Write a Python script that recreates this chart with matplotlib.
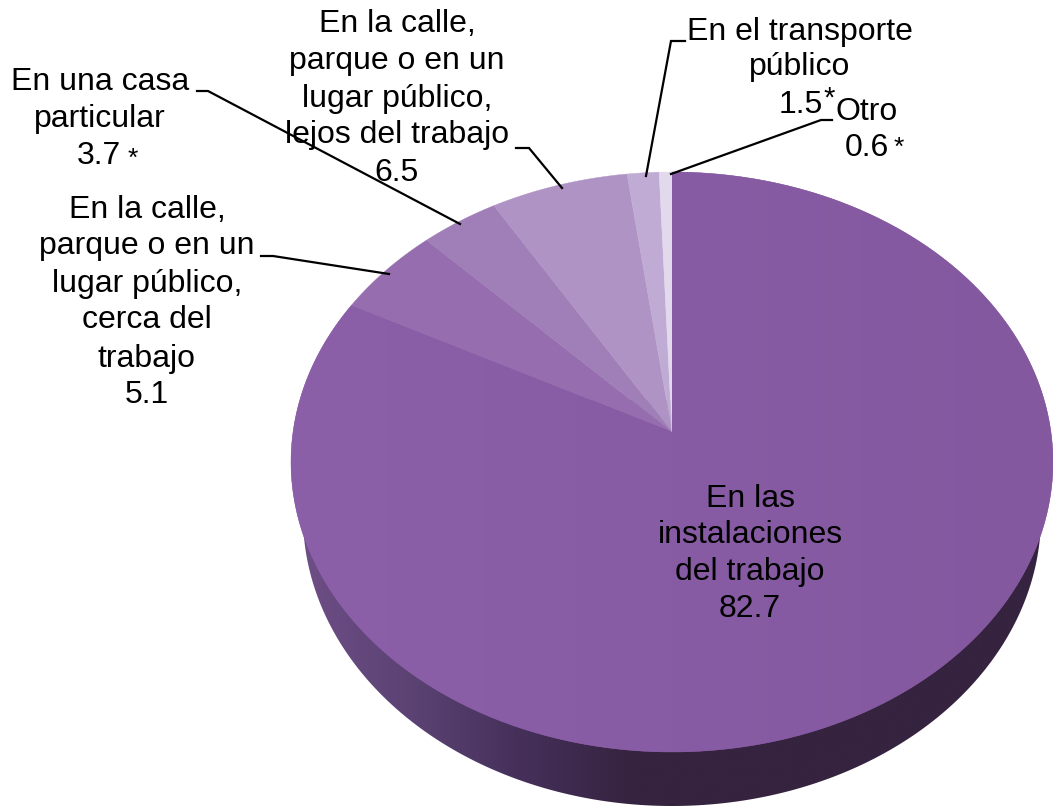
import numpy as np
import matplotlib
matplotlib.use('Agg')
import matplotlib.pyplot as plt
from matplotlib.colors import LinearSegmentedColormap
from matplotlib.patches import Polygon

# clockwise from 12 o'clock
categorias = ['En las instalaciones del trabajo', 'En la calle, cerca del trabajo', 'En una casa particular',
              'En la calle, lejos del trabajo', 'En el transporte publico', 'Otro']
valores = [82.7, 5.1, 3.7, 6.5, 1.5, 0.6]
cores = ['#8759A3', '#966DAE', '#A07FB8', '#AF93C4', '#C0ABD4', '#E3D9EC']

# disc geometry in pixels
cx, cy, rx, ry = 672, 462, 381, 290
apex_y = 432
lado_cy, lado_rx = 516, 369

plt.rcParams['font.family'] = ['Liberation Sans', 'DejaVu Sans']
FS = 23


def ponto_borda(theta):
    # ray from the apex to the rim of the tilted ellipse
    dx = np.sin(theta) * rx
    dy = -np.cos(theta) * ry
    oy = apex_y - cy
    a = (dx / rx) ** 2 + (dy / ry) ** 2
    b = 2 * oy * dy / ry ** 2
    c = (oy / ry) ** 2 - 1
    t = (-b + np.sqrt(b ** 2 - 4 * a * c)) / (2 * a)
    return cx + t * dx, apex_y + t * dy


def fatia(ini, fim):
    angulos = np.linspace(ini, fim, 300)
    xs, ys = ponto_borda(angulos)
    return np.column_stack([np.r_[cx, xs], np.r_[apex_y, ys]])


fig = plt.figure(figsize=(10.53, 8.07), dpi=100)
ax = fig.add_axes([0, 0, 1, 1])

# side wall
t = np.linspace(0, 2 * np.pi, 500)
lado = Polygon(np.column_stack([cx + lado_rx * np.cos(t), lado_cy + ry * np.sin(t)]), closed=True,
               fc='none', ec='none')
ax.add_patch(lado)
cmap_lado = LinearSegmentedColormap.from_list('lado', [(0, '#6F4F88'), (0.15, '#5C4374'), (0.3, '#45305A'),
                                                       (0.45, '#35233F'), (1, '#35233F')])
img = ax.imshow(np.linspace(0, 1, 256).reshape(1, -1), extent=(291, 1053, 807, 400), cmap=cmap_lado,
                aspect='auto', zorder=1)
img.set_clip_path(lado)

# top face
fracoes = np.array(valores) / np.sum(valores)
limites = np.r_[0, np.cumsum(fracoes)] * 2 * np.pi
for i in range(len(valores)):
    p = Polygon(fatia(limites[i], limites[i + 1]), closed=True, fc=cores[i], ec=cores[i], lw=0.3, zorder=2)
    ax.add_patch(p)
    if i == 0:
        cmap_topo = LinearSegmentedColormap.from_list('topo', ['#8B60A9', '#84589F'])
        g = ax.imshow(np.linspace(0, 1, 256).reshape(1, -1), extent=(291, 1053, 807, 150), cmap=cmap_topo,
                      aspect='auto', zorder=2.1)
        g.set_clip_path(p)

# leader lines
linhas = [
    ([832, 821, 671], [120, 120, 174]),
    ([685, 671, 646], [41, 41, 176]),
    ([516, 529, 562], [148, 148, 188]),
    ([197, 208, 460], [91, 91, 224]),
    ([261, 273, 389], [256, 256, 274]),
]
for xs, ys in linhas:
    ax.plot(xs, ys, color='black', lw=1.6, solid_joinstyle='miter', zorder=3)

# labels: (text, center x, baseline y)
rotulos = [
    ('En la calle,', 397, 32), ('parque o en un', 397, 69), ('lugar público,', 397, 107),
    ('lejos del trabajo', 397, 143), ('6.5', 397, 181),
    ('En el transporte', 800, 40), ('público', 800, 75), ('1.5', 801, 113),
    ('Otro', 867, 120), ('0.6', 867, 156),
    ('En una casa', 100, 90), ('particular', 100, 127), ('3.7', 99, 164),
    ('En la calle,', 147, 218), ('parque o en un', 147, 254), ('lugar público,', 147, 292),
    ('cerca del', 147, 328), ('trabajo', 147, 367), ('5.1', 147, 403),
    ('En las', 750, 507), ('instalaciones', 750, 543), ('del trabajo', 750, 580), ('82.7', 750, 617),
]
for txt, x, y in rotulos:
    ax.text(x, y, txt, fontsize=FS, ha='center', va='baseline', color='black', zorder=4)

asteriscos = [(829, 107, 21), (899, 155, 19), (133, 166, 19)]
for x, y, tam in asteriscos:
    ax.text(x, y, '*', fontsize=tam, ha='center', va='baseline', color='black', zorder=4)

ax.set_xlim(0, 1053)
ax.set_ylim(807, 0)
ax.axis('off')
fig.savefig('out.png', dpi=100)
